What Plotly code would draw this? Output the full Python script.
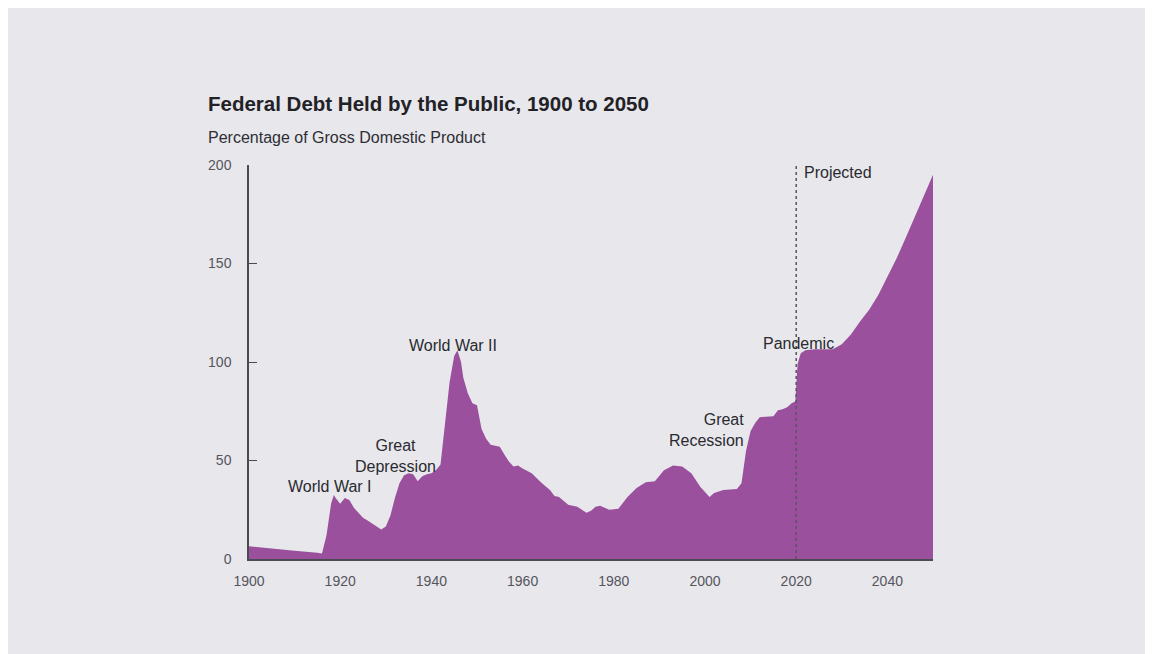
import plotly.graph_objects as go

years = [1900, 1905, 1910, 1915, 1916, 1917, 1918, 1918.6, 1919, 1920, 1921, 1922, 1923, 1924, 1925,
         1926, 1927, 1928, 1929, 1930, 1931, 1932, 1933, 1934, 1935, 1936, 1937, 1938, 1939, 1940,
         1941, 1942, 1943, 1944, 1945, 1945.7, 1946.5, 1947, 1948, 1949, 1950, 1951, 1952, 1953, 1954,
         1955, 1956, 1957, 1958, 1959, 1960, 1962, 1964, 1966, 1967, 1968, 1970, 1972, 1973,
         1974, 1975, 1976, 1977, 1979, 1981, 1983, 1985, 1987, 1989, 1991, 1993, 1995, 1997,
         1999, 2001, 2002, 2004, 2007, 2008, 2009, 2010, 2011, 2012, 2014, 2015, 2016, 2017,
         2018, 2019, 2019.8, 2020.3, 2021, 2022, 2024, 2026, 2028, 2030, 2032, 2034, 2036, 2038,
         2040, 2042, 2044, 2046, 2048, 2050]
debt = [6.5, 5.2, 4.2, 3.2, 2.8, 12, 28, 32.5, 31, 28, 31, 30, 26, 23.5, 21,
        19.5, 18, 16.5, 15, 16.5, 22, 31, 38.5, 42.5, 43.5, 43, 39.5, 42, 43, 43.5,
        45, 48, 70, 90, 103, 106, 100, 92, 84, 79, 78, 66, 61, 58, 57.5,
        57, 53, 49.5, 47, 47.5, 46, 43.5, 39, 35, 32, 31.5, 27.5, 26.5, 25,
        23.5, 24.5, 26.5, 27, 25, 25.5, 31.5, 36, 39, 39.5, 45, 47.5, 47, 43.5,
        36.5, 31.5, 33.5, 35, 35.5, 38.5, 55, 65, 69, 72, 72.5, 72.5, 75.5, 76,
        77, 79, 80, 99, 104.5, 106, 106.5, 106.5, 106.5, 109, 114, 120.5, 126.5, 134,
        143, 152.5, 163, 173.5, 184.5, 195]

x_ticks = [1900, 1920, 1940, 1960, 1980, 2000, 2020, 2040]
y_ticks = [0, 50, 100, 150, 200]

title_text = "Federal Debt Held by the Public, 1900 to 2050"
subtitle_text = "Percentage of Gross Domestic Product"
# label, year, value (centre of text), alignment
events = [
    ("World War I", 1917.8, 37, "center"),
    ("Great<br>Depression", 1932.2, 52.3, "center"),
    ("World War II", 1944.7, 108.6, "center"),
    ("Great<br>Recession", 2008.9, 65.5, "right"),
    ("Pandemic", 2020.4, 109.6, "center"),
]

FONT = "Liberation Sans, Arial, Helvetica, sans-serif"
PURPLE = "#9a509d"
AXIS = "#4a4a52"

fig = go.Figure()
fig.add_trace(go.Scatter(
    x=years, y=debt, mode="lines", fill="tozeroy",
    line=dict(width=0, color=PURPLE), fillcolor=PURPLE,
    hoverinfo="x+y", showlegend=False,
))

fig.add_shape(type="line", xref="x", yref="y", x0=2020, x1=2020, y0=0, y1=200,
              line=dict(color="#555560", width=1.5, dash="dot"), layer="above")

for text, x, y, align in events:
    fig.add_annotation(x=x, y=y, xref="x", yref="y", text=text, showarrow=False,
                       align=align, xanchor="center" if align == "center" else "right",
                       yanchor="middle",
                       font=dict(family=FONT, size=16, color="#2a2a30"))

fig.add_annotation(x=2021.3, y=196, xref="x", yref="y", text="Projected", showarrow=False,
                   xanchor="left", yanchor="middle",
                   font=dict(family=FONT, size=16, color="#2a2a30"))

# page offset of 8px (body margin) accounted for in pixel positions
fig.add_annotation(x=198, y=96, xref="paper", yref="paper", text="<b>" + title_text + "</b>",
                   showarrow=False, xanchor="left", yanchor="middle",
                   font=dict(family=FONT, size=20.5, color="#222226"))
fig.add_annotation(x=198, y=129, xref="paper", yref="paper", text=subtitle_text,
                   showarrow=False, xanchor="left", yanchor="middle",
                   font=dict(family=FONT, size=16, color="#2e2e34"))

L, R, T, B = 241, 228, 157, 103
W, H = 1153, 654
pw, ph = W - L - R, H - T - B
for ann in fig.layout.annotations:
    if ann.xref == "paper":
        ann.x = (ann.x - L) / pw
        ann.y = (H - B - ann.y) / ph

fig.update_layout(
    width=W, height=H,
    margin=dict(l=L, r=R, t=T, b=B, pad=0),
    paper_bgcolor="#e7e7ec", plot_bgcolor="rgba(0,0,0,0)",
    font=dict(family=FONT, color="#555"),
    xaxis=dict(range=[1900, 2050], tickvals=x_ticks, ticktext=[str(v) for v in x_ticks],
               showgrid=False, zeroline=False, showline=True, linecolor=AXIS, linewidth=1.5,
               ticks="inside", ticklen=8, tickwidth=1.3, tickcolor=AXIS, ticklabelstandoff=8,
               tickfont=dict(family=FONT, size=14, color="#55555c"), layer="below traces"),
    yaxis=dict(range=[0, 200], tickvals=y_ticks, ticktext=[str(v) for v in y_ticks],
               showgrid=False, zeroline=False, showline=True, linecolor=AXIS, linewidth=1.5,
               ticks="inside", ticklen=8, tickwidth=1.3, tickcolor=AXIS, ticklabelstandoff=13,
               tickfont=dict(family=FONT, size=14, color="#55555c"), layer="below traces"),
)

fig.write_html("out.html")
